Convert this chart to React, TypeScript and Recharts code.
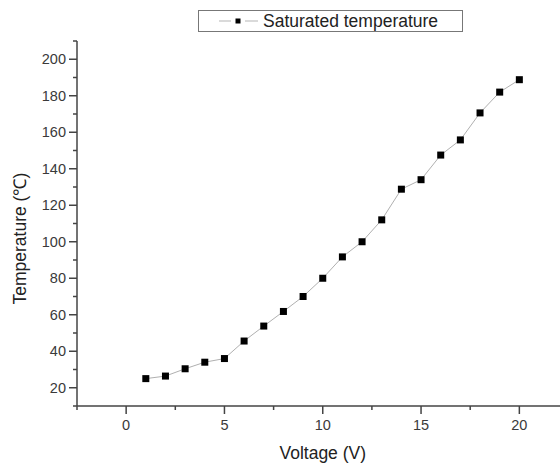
import React from 'react';
import { LineChart, Line, XAxis, YAxis, Legend } from 'recharts';

const voltages = [1, 2, 3, 4, 5, 6, 7, 8, 9, 10, 11, 12, 13, 14, 15, 16, 17, 18, 19, 20];
const temperatures = [25, 26.4, 30.4, 34, 36, 45.6, 53.8, 61.8, 70, 80, 91.7, 100, 112, 128.8, 134, 147.5, 155.8, 170.6, 182, 188.8];
const xTicks = [-2.5, 0, 2.5, 5, 7.5, 10, 12.5, 15, 17.5, 20, 22.5];
const yTicks = [10, 20, 30, 40, 50, 60, 70, 80, 90, 100, 110, 120, 130, 140, 150, 160, 170, 180, 190, 200, 210];
const seriesName = 'Saturated temperature';

const data = voltages.map((v, i) => ({ v, t: temperatures[i] }));

const FONT = '"Liberation Sans", Arial, sans-serif';
const AXIS = '#444';
const TEXT = '#3a3a3a';

const YTick = (props: any) => {
  const { x, y, payload } = props;
  const major = payload.value % 20 === 0 && payload.value >= 20 && payload.value <= 200;
  return (
    <g>
      <line x1={x - (major ? 8 : 4)} x2={x} y1={y} y2={y} stroke={AXIS} strokeWidth={1.5} />
      {major && (
        <text x={x - 11} y={y + 5} textAnchor="end" fontSize={14.5} fill={TEXT} fontFamily={FONT}>
          {payload.value}
        </text>
      )}
    </g>
  );
};

const XTick = (props: any) => {
  const { x, y, payload } = props;
  const major = payload.value % 5 === 0;
  return (
    <g>
      <line x1={x} x2={x} y1={y} y2={y + (major ? 8 : 4)} stroke={AXIS} strokeWidth={1.5} />
      {major && (
        <text x={x} y={y + 24} textAnchor="middle" fontSize={14.5} fill={TEXT} fontFamily={FONT}>
          {payload.value}
        </text>
      )}
    </g>
  );
};

const SquareDot = (props: any) => {
  const { cx, cy, index } = props;
  if (cx == null || cy == null) return <g key={index} />;
  return <rect key={index} x={cx - 3.5} y={cy - 3.5} width={7} height={7} fill="#000" />;
};

const LegendBox = () => (
  <div
    style={{
      width: 263,
      height: 20,
      border: '1px solid #777',
      display: 'flex',
      alignItems: 'center',
      fontFamily: FONT,
      fontSize: 17.5,
      color: '#222',
      background: '#fff',
    }}
  >
    <svg width={64} height={20} style={{ display: 'block' }}>
      <line x1={20} x2={32} y1={10} y2={10} stroke="#b5b5b5" strokeWidth={1} />
      <rect x={36.5} y={7.5} width={5} height={5} fill="#000" />
      <line x1={46} x2={59} y1={10} y2={10} stroke="#b5b5b5" strokeWidth={1} />
    </svg>
    <span style={{ whiteSpace: 'nowrap', lineHeight: '20px' }}>{seriesName}</span>
  </div>
);

export default function App() {
  return (
    <div style={{ position: 'fixed', left: 0, top: 0, width: 560, height: 465, overflow: 'hidden', background: '#fff' }}>
      <LineChart width={580} height={465} data={data} margin={{ top: 41, right: 11.5, left: 0, bottom: 0 }}>
        <XAxis
          dataKey="v"
          type="number"
          domain={[-2.5, 22.5]}
          ticks={xTicks}
          interval={0}
          tickSize={0}
          tickMargin={0}
          height={59}
          stroke={AXIS}
          strokeWidth={1.5}
          tick={<XTick />}
          label={{ value: 'Voltage (V)', position: 'insideBottom', offset: 6, fontSize: 17.5, fill: '#222', fontFamily: FONT }}
        />
        <YAxis
          type="number"
          domain={[10, 210]}
          ticks={yTicks}
          interval={0}
          tickSize={0}
          tickMargin={0}
          width={77}
          stroke={AXIS}
          strokeWidth={1.5}
          tick={<YTick />}
          label={{ value: 'Temperature (℃)', angle: -90, position: 'insideLeft', offset: 20, dy: 81, fontSize: 17.5, fill: '#222', fontFamily: FONT }}
        />
        <Legend
          layout="horizontal"
          verticalAlign="middle"
          align="center"
          content={() => <LegendBox />}
          wrapperStyle={{ left: 198, top: 10, width: 265, height: 22 }}
        />
        <Line
          type="linear"
          dataKey="t"
          name={seriesName}
          stroke="#b0b0b0"
          strokeWidth={1}
          dot={<SquareDot />}
          activeDot={false}
          isAnimationActive={false}
        />
      </LineChart>
    </div>
  );
}
